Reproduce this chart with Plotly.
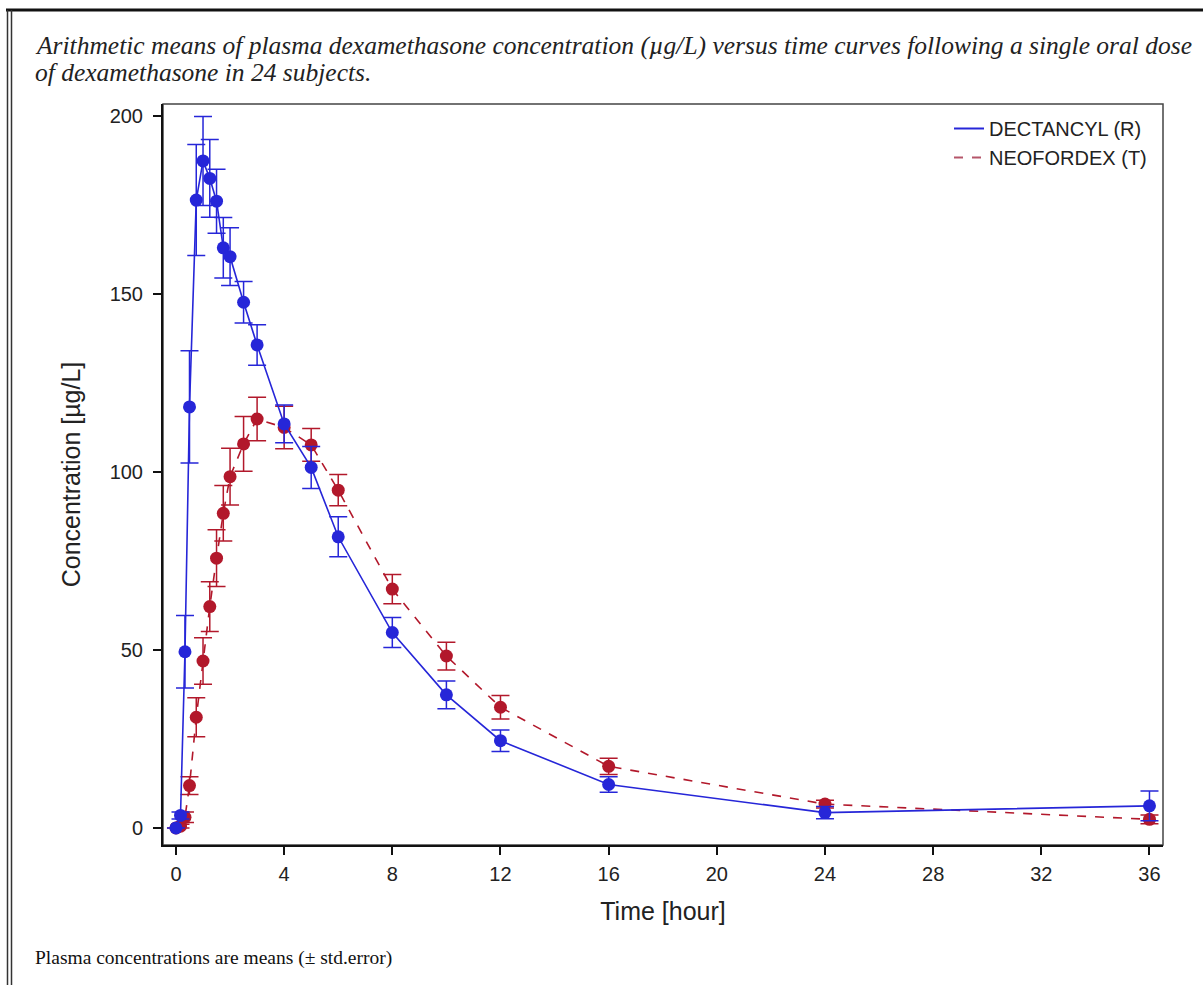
import plotly.graph_objects as go

time_h = [0, 0.167, 0.333, 0.5, 0.75, 1, 1.25, 1.5, 1.75, 2, 2.5, 3, 4, 5, 6, 8, 10, 12, 16, 24, 36]

dect_mean = [0, 3.5, 49.5, 118.3, 176.4, 187.4, 182.5, 176.1, 163.0, 160.5, 147.7, 135.7,
             113.5, 101.3, 81.8, 54.9, 37.4, 24.5, 12.2, 4.3, 6.2]
dect_se = [0, 1.0, 10.2, 15.8, 15.6, 12.5, 10.9, 9.0, 8.5, 8.1, 5.8, 5.7,
           5.3, 5.9, 5.6, 4.2, 3.9, 3.0, 2.2, 1.7, 4.2]

neo_mean = [0, 0.5, 3.0, 11.9, 31.1, 46.9, 62.2, 75.8, 88.4, 98.7, 107.9, 114.9,
            112.5, 107.6, 94.9, 67.1, 48.3, 33.9, 17.3, 6.7, 2.4]
neo_se = [0, 0.5, 1.5, 2.5, 5.5, 6.5, 7.0, 8.0, 7.8, 8.0, 7.7, 6.1,
          6.0, 4.6, 4.4, 4.1, 3.9, 3.3, 2.3, 1.1, 1.2]

x_ticks = [0, 4, 8, 12, 16, 20, 24, 28, 32, 36]
y_ticks = [0, 50, 100, 150, 200]

title_line1 = "Arithmetic means of plasma dexamethasone concentration (µg/L) versus time curves following a single oral dose"
title_line2 = "of dexamethasone in 24 subjects."
footnote = "Plasma concentrations are means (± std.error)"

BLUE = "#2626d8"
RED = "#b2182b"
SANS = "Liberation Sans, Arial, sans-serif"
SERIF = "Liberation Serif, Times New Roman, serif"

W, H = 1203, 985
ML, MR, MT, MB = 163, 40, 104, 140
PW, PH = W - ML - MR, H - MT - MB


def px(xpix):
    return (xpix - ML) / PW


def py(ypix):
    return (H - MB - ypix) / PH


fig = go.Figure()

fig.add_trace(go.Scatter(
    x=time_h, y=neo_mean, mode="lines+markers", showlegend=False,
    line=dict(color=RED, width=1.6, dash="dash"),
    marker=dict(color=RED, size=13),
    error_y=dict(type="data", array=neo_se, color=RED, thickness=1.5, width=9),
))
fig.add_trace(go.Scatter(
    x=time_h, y=dect_mean, mode="lines+markers", showlegend=False,
    line=dict(color=BLUE, width=1.6),
    marker=dict(color=BLUE, size=13),
    error_y=dict(type="data", array=dect_se, color=BLUE, thickness=1.5, width=9),
))
# legend-only entries (lines only, as in the reference legend)
fig.add_trace(go.Scatter(x=[None], y=[None], mode="lines", name="DECTANCYL (R)",
                         line=dict(color=BLUE, width=2)))
fig.add_trace(go.Scatter(x=[None], y=[None], mode="lines", name="NEOFORDEX (T)",
                         line=dict(color="#b5566a", width=2, dash="dash")))

fig.update_layout(
    width=W, height=H,
    margin=dict(l=ML, r=MR, t=MT, b=MB),
    paper_bgcolor="white", plot_bgcolor="white",
    font=dict(family=SANS, color="#222222", size=20),
    legend=dict(x=px(1152), y=py(109), xanchor="right", yanchor="top",
                bgcolor="rgba(0,0,0,0)", font=dict(size=20, family=SANS),
                tracegroupgap=0),
    xaxis=dict(range=[-0.48, 36.5], tickvals=x_ticks, ticktext=[str(v) for v in x_ticks],
               showgrid=False, zeroline=False, showline=True, linecolor="#111111", linewidth=2,
               ticks="outside", ticklen=8, tickwidth=2, tickcolor="#111111",
               tickfont=dict(size=20), ticklabelstandoff=2,
               title=dict(text="Time [hour]", font=dict(size=25), standoff=18)),
    yaxis=dict(range=[-4.8, 203.4], tickvals=y_ticks, ticktext=[str(v) for v in y_ticks],
               showgrid=False, zeroline=False, showline=True, linecolor="#111111", linewidth=2,
               ticks="outside", ticklen=8, tickwidth=2, tickcolor="#111111",
               tickfont=dict(size=20), ticklabelstandoff=6,
               title=dict(text="Concentration [µg/L]", font=dict(size=25), standoff=22)),
    shapes=[
        # thin dark top/right frame of plot area
        dict(type="rect", xref="paper", yref="paper", x0=0, y0=0, x1=1, y1=1,
             line=dict(color="#444444", width=1.5), layer="below"),
        # outer document frame
        dict(type="line", xref="paper", yref="paper",
             x0=px(6), x1=px(1210), y0=py(10), y1=py(10),
             line=dict(color="#111111", width=3)),
        dict(type="line", xref="paper", yref="paper",
             x0=px(7.5), x1=px(7.5), y0=py(990), y1=py(10),
             line=dict(color="#333333", width=1.5)),
        dict(type="line", xref="paper", yref="paper",
             x0=px(11.5), x1=px(11.5), y0=py(990), y1=py(10),
             line=dict(color="#333333", width=1.5)),
    ],
    annotations=[
        dict(text="<i>" + title_line1 + "</i>",
             xref="paper", yref="paper", x=px(33), y=py(45),
             xanchor="left", yanchor="middle", align="left", showarrow=False,
             font=dict(family=SERIF, size=25.5, color="#222222")),
        dict(text="<i>" + title_line2 + "</i>",
             xref="paper", yref="paper", x=px(33), y=py(73),
             xanchor="left", yanchor="middle", align="left", showarrow=False,
             font=dict(family=SERIF, size=25.5, color="#222222")),
        dict(text=footnote,
             xref="paper", yref="paper", x=px(33), y=py(958),
             xanchor="left", yanchor="middle", align="left", showarrow=False,
             font=dict(family=SERIF, size=19.5, color="#111111")),
    ],
)

fig.write_html("out.html", config={"displayModeBar": False},
               post_script="document.body.style.margin='0';")
